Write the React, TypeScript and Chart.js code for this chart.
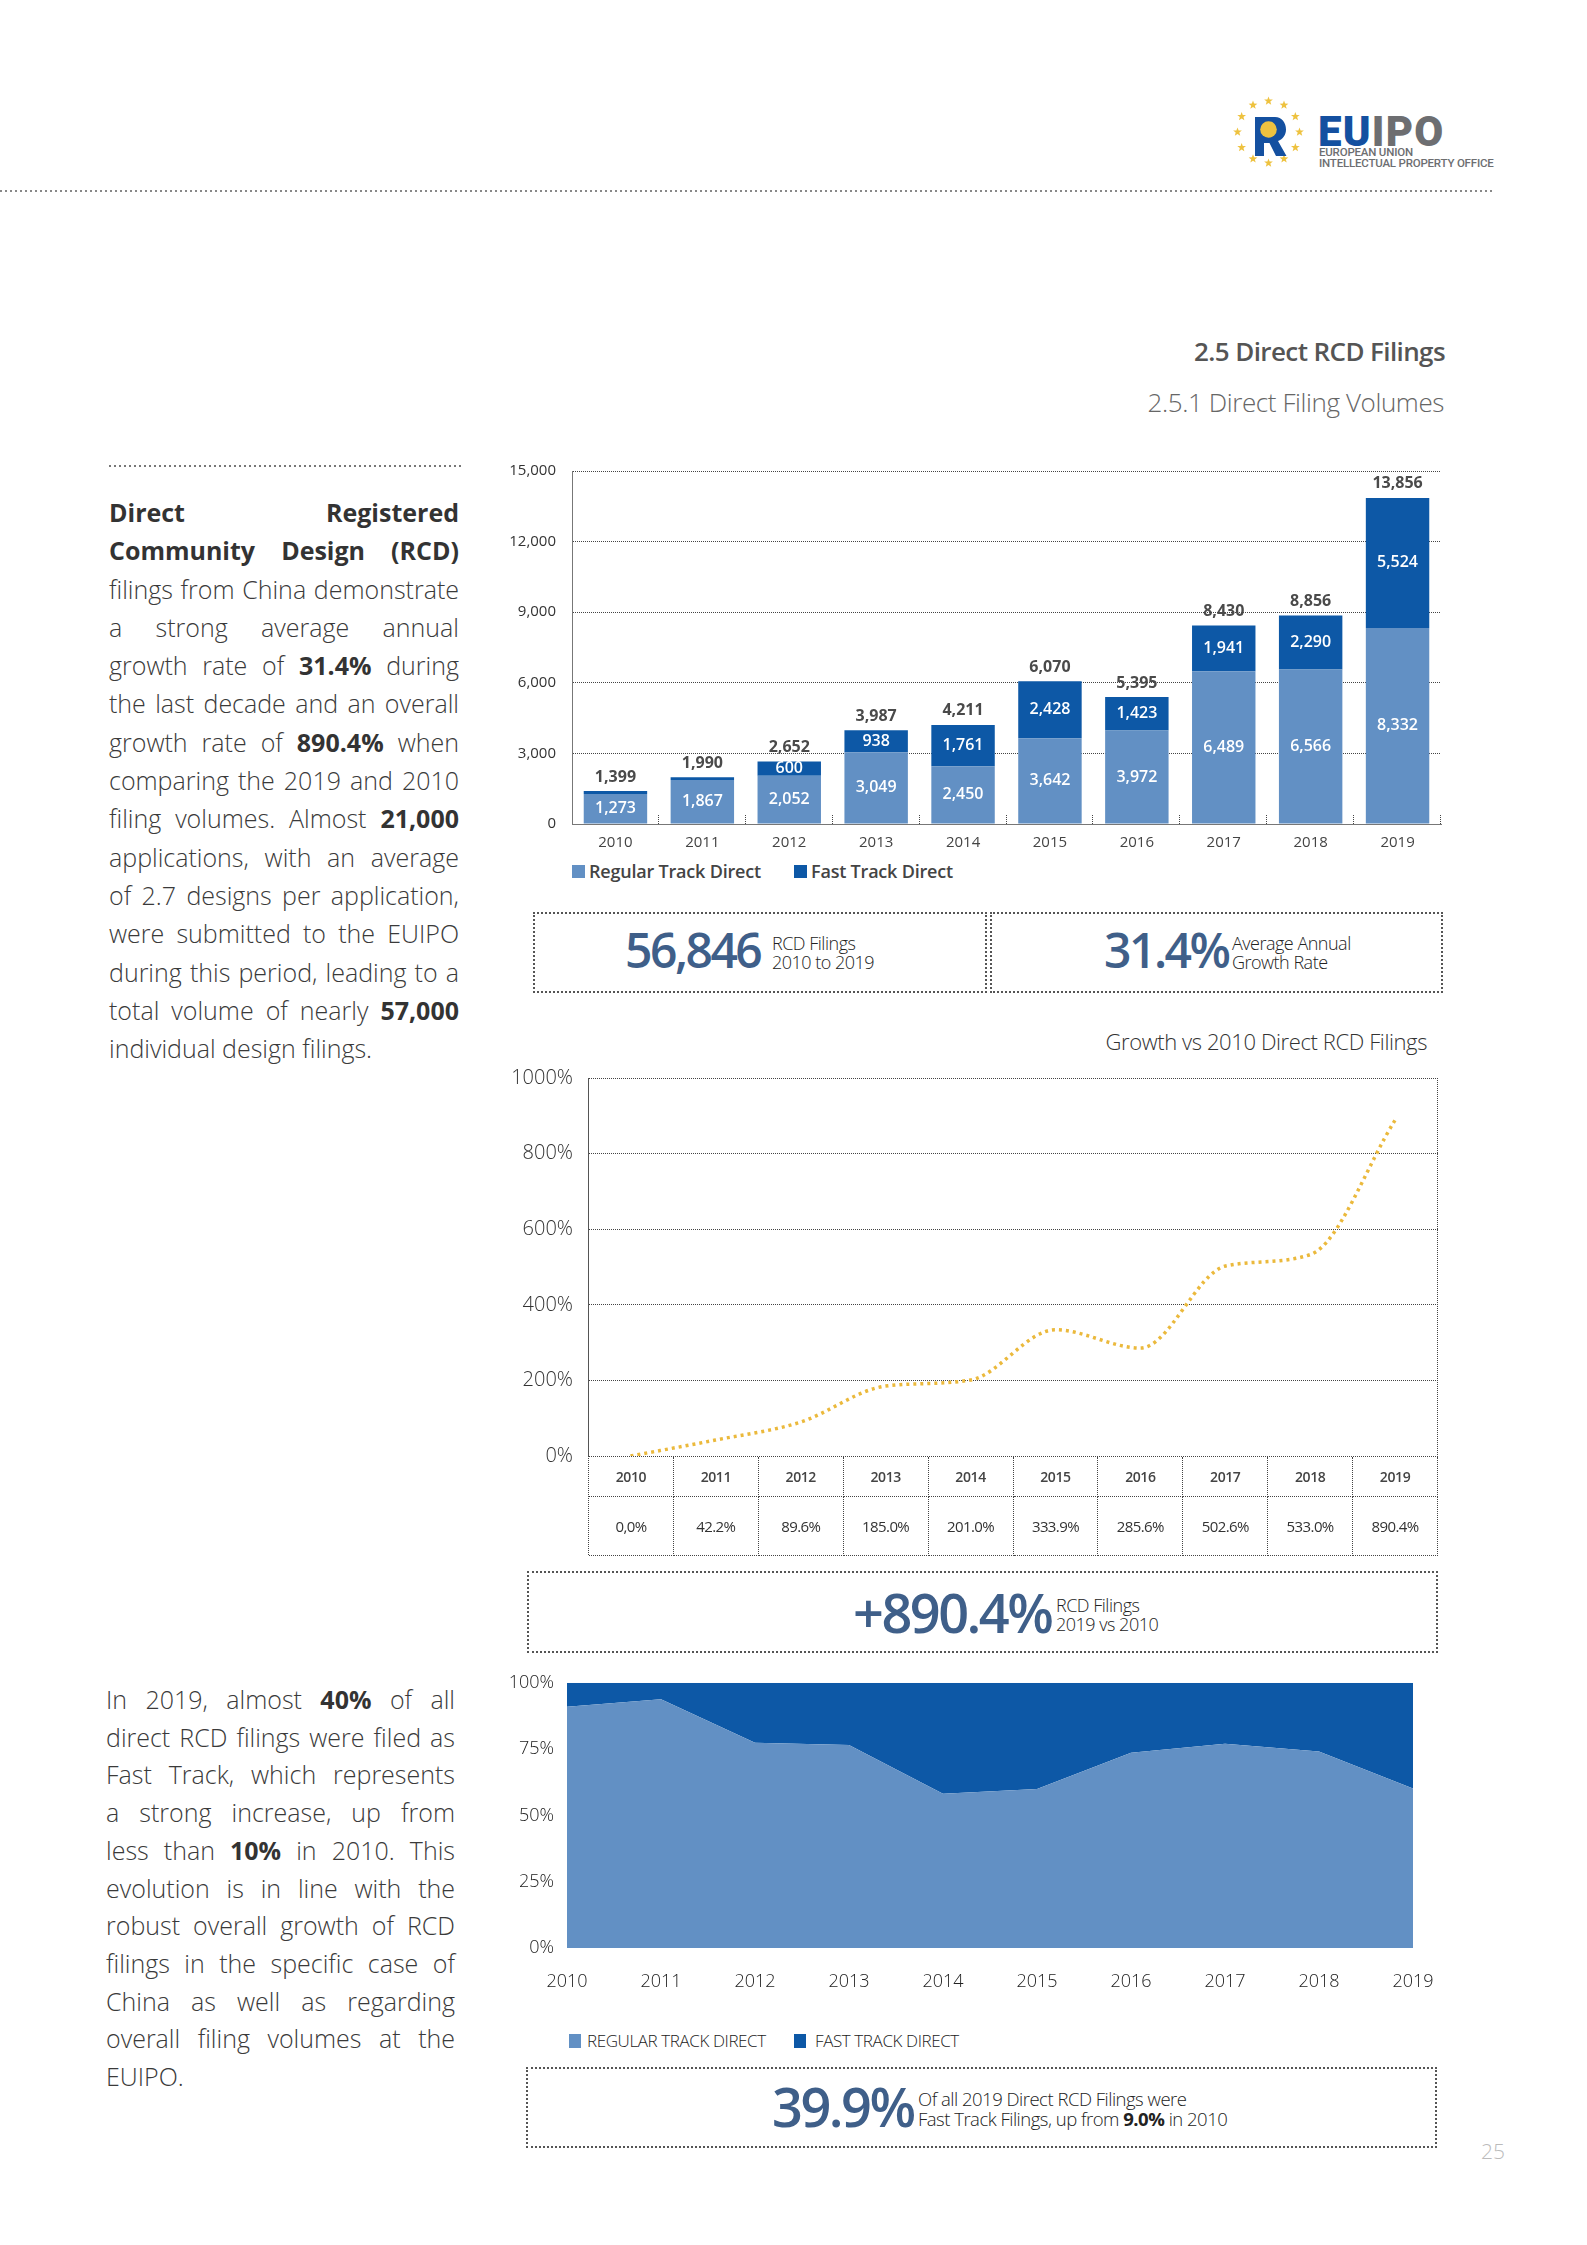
import React, { useEffect, useRef } from 'react';
import { Chart, registerables } from 'chart.js';

Chart.register(...registerables);

// ---------- DATA ----------
const years = ['2010', '2011', '2012', '2013', '2014', '2015', '2016', '2017', '2018', '2019'];
const regularTrack = [1273, 1867, 2052, 3049, 2450, 3642, 3972, 6489, 6566, 8332];
const fastTrack = [126, 123, 600, 938, 1761, 2428, 1423, 1941, 2290, 5524];
const totalFilings = [1399, 1990, 2652, 3987, 4211, 6070, 5395, 8430, 8856, 13856];
const barAxisMax = 15000;
const barAxisStep = 3000;

const growthPct = [0, 42.2, 89.6, 185.0, 201.0, 333.9, 285.6, 502.6, 533.0, 890.4];
const growthLabels = ['0,0%', '42.2%', '89.6%', '185.0%', '201.0%', '333.9%', '285.6%', '502.6%', '533.0%', '890.4%'];
const growthAxisMax = 1000;
const growthAxisStep = 200;

const regularShare = [91.0, 93.8, 77.4, 76.5, 58.2, 60.0, 73.6, 77.0, 74.1, 60.1];
const fastShare = [9.0, 6.2, 22.6, 23.5, 41.8, 40.0, 26.4, 23.0, 25.9, 39.9];
const shareAxisStep = 25;

// ---------- STYLE ----------
const FONT = '"Open Sans", sans-serif';
const REG = '#6290C4';
const FAST = '#0D58A6';
const GOLD = '#EBB93C';
const STAT = '#3F5F89';
const TEXT = '#3a3a3a';

Chart.defaults.font.family = FONT;

const fmt = (v: number) => v.toLocaleString('en-US');

const barLabelPlugin = {
  id: 'barLabels',
  afterDatasetsDraw(chart: any) {
    const { ctx } = chart;
    const m0 = chart.getDatasetMeta(0);
    const m1 = chart.getDatasetMeta(1);
    ctx.save();
    ctx.textAlign = 'center';
    ctx.textBaseline = 'middle';
    m0.data.forEach((el: any, i: number) => {
      const r = el.getProps(['x', 'y', 'base'], true);
      const f = m1.data[i].getProps(['x', 'y', 'base'], true);
      ctx.fillStyle = '#ffffff';
      ctx.font = `600 16px ${FONT}`;
      ctx.fillText(fmt(regularTrack[i]), r.x, (r.y + r.base) / 2);
      if (fastTrack[i] >= 300) ctx.fillText(fmt(fastTrack[i]), f.x, (f.y + f.base) / 2);
      ctx.fillStyle = '#4a4a4a';
      ctx.font = `700 16px ${FONT}`;
      ctx.fillText(fmt(totalFilings[i]), f.x, f.y - 14);
    });
    ctx.restore();
  },
};

const innerTicksPlugin = {
  id: 'innerTicks',
  afterDraw(chart: any) {
    const { ctx, chartArea } = chart;
    const { left, right, bottom } = chartArea;
    const n = years.length;
    const w = (right - left) / n;
    ctx.save();
    ctx.strokeStyle = '#444';
    ctx.lineWidth = 1;
    ctx.setLineDash([1, 1]);
    for (let i = 1; i <= n; i++) {
      const x = Math.round(left + i * w) - 0.5;
      ctx.beginPath();
      ctx.moveTo(x, bottom);
      ctx.lineTo(x, bottom - 9);
      ctx.stroke();
    }
    ctx.restore();
  },
};

const rightBorderPlugin = {
  id: 'rightBorder',
  afterDraw(chart: any) {
    const { ctx, chartArea } = chart;
    ctx.save();
    ctx.strokeStyle = '#444';
    ctx.lineWidth = 1;
    ctx.setLineDash([1, 1]);
    const x = Math.round(chartArea.right) - 0.5;
    ctx.beginPath();
    ctx.moveTo(x, chartArea.top);
    ctx.lineTo(x, chartArea.bottom);
    ctx.stroke();
    ctx.restore();
  },
};

function ChartCanvas({ left, top, width, height, build }: any) {
  const ref = useRef<HTMLCanvasElement>(null);
  useEffect(() => {
    const chart = new Chart(ref.current as HTMLCanvasElement, build());
    return () => chart.destroy();
  }, []);
  return (
    <canvas
      ref={ref}
      width={width}
      height={height}
      style={{ position: 'absolute', left, top, width, height }}
    />
  );
}

const buildBar = () => ({
  type: 'bar',
  data: {
    labels: years,
    datasets: [
      { label: 'Regular Track Direct', data: regularTrack, backgroundColor: REG, barPercentage: 0.73, categoryPercentage: 1 },
      { label: 'Fast Track Direct', data: fastTrack, backgroundColor: FAST, barPercentage: 0.73, categoryPercentage: 1 },
    ],
  },
  options: {
    responsive: false,
    animation: false,
    layout: { padding: { left: 0, right: 19, top: 0, bottom: 0 } },
    plugins: { legend: { display: false }, tooltip: { enabled: false } },
    scales: {
      x: {
        stacked: true,
        offset: true,
        grid: { display: false, drawTicks: false },
        border: { display: true, color: '#777', width: 1 },
        ticks: { padding: 10, maxRotation: 0, font: { size: 15 }, color: '#444' },
        afterFit: (s: any) => { s.height = 31; },
      },
      y: {
        stacked: true,
        min: 0,
        max: barAxisMax,
        ticks: {
          stepSize: barAxisStep,
          padding: 16,
          font: { size: 15 },
          color: '#333',
          callback: (v: any) => fmt(Number(v)),
        },
        grid: { color: '#444', lineWidth: 1, drawTicks: false },
        border: { display: true, color: '#777', width: 1, dash: [1, 1] },
        afterFit: (s: any) => { s.width = 72; },
      },
    },
  },
  plugins: [barLabelPlugin, innerTicksPlugin],
});

const buildLine = () => ({
  type: 'line',
  data: {
    labels: years,
    datasets: [
      {
        label: 'Growth vs 2010',
        data: growthPct,
        borderColor: GOLD,
        borderWidth: 3.5,
        borderDash: [3, 4],
        pointRadius: 0,
        cubicInterpolationMode: 'monotone',
        fill: false,
      },
    ],
  },
  options: {
    responsive: false,
    animation: false,
    layout: { padding: { left: 0, right: 22, top: 0, bottom: 0 } },
    plugins: { legend: { display: false }, tooltip: { enabled: false } },
    scales: {
      x: { display: false, offset: true },
      y: {
        min: 0,
        max: growthAxisMax,
        ticks: {
          stepSize: growthAxisStep,
          padding: 15,
          font: { size: 20, weight: 300 },
          color: '#333',
          callback: (v: any) => `${v}%`,
        },
        grid: { color: '#444', lineWidth: 1, drawTicks: false },
        border: { display: true, color: '#555', width: 1, dash: [1, 1] },
        afterFit: (s: any) => { s.width = 88; },
      },
    },
  },
  plugins: [rightBorderPlugin],
});

const buildArea = () => ({
  type: 'line',
  data: {
    labels: years,
    datasets: [
      { label: 'REGULAR TRACK DIRECT', data: regularShare, backgroundColor: REG, borderColor: REG, borderWidth: 0, pointRadius: 0, fill: 'origin', tension: 0 },
      { label: 'FAST TRACK DIRECT', data: fastShare, backgroundColor: FAST, borderColor: FAST, borderWidth: 0, pointRadius: 0, fill: '-1', tension: 0 },
    ],
  },
  options: {
    responsive: false,
    animation: false,
    layout: { padding: { left: 0, right: 47, top: 0, bottom: 0 } },
    plugins: { legend: { display: false }, tooltip: { enabled: false } },
    scales: {
      x: {
        offset: false,
        grid: { display: false },
        border: { display: false },
        ticks: { padding: 15, maxRotation: 0, font: { size: 18, weight: 300 }, color: '#222' },
        afterFit: (s: any) => { s.height = 45; },
      },
      y: {
        stacked: true,
        min: 0,
        max: 100,
        ticks: {
          stepSize: shareAxisStep,
          padding: 5,
          font: { size: 18, weight: 300 },
          color: '#222',
          callback: (v: any) => `${v}%`,
        },
        grid: { display: false },
        border: { display: false },
        afterFit: (s: any) => { s.width = 67; },
      },
    },
  },
});

// ---------- HTML helpers ----------
const abs = (left: number, top: number, extra: any = {}) => ({ position: 'absolute' as const, left, top, ...extra });

function HDots({ x, y, w, color = '#777' }: any) {
  return (
    <div
      style={abs(x, y, {
        width: w,
        height: 2,
        backgroundImage: `repeating-linear-gradient(90deg, ${color} 0 2px, transparent 2px 5px)`,
      })}
    />
  );
}

function Box({ x, y, w, h }: any) {
  return <div style={abs(x, y, { width: w, height: h, border: '2px dotted #555', boxSizing: 'border-box' })} />;
}

function BigNum({ x, cy, size, ls = -2.5, children }: any) {
  return (
    <div
      style={abs(x, cy - 0.531 * size, {
        fontFamily: FONT,
        fontWeight: 600,
        fontSize: size,
        lineHeight: 1,
        color: STAT,
        letterSpacing: ls,
        whiteSpace: 'nowrap',
      })}
    >
      {children}
    </div>
  );
}

function SmallLines({ x, cy1, lines, size = 18, lh = 19, ls = -0.5 }: any) {
  return (
    <div
      style={abs(x, cy1 - lh / 2, {
        fontFamily: FONT,
        fontWeight: 300,
        fontSize: size,
        lineHeight: `${lh}px`,
        color: '#222',
        letterSpacing: ls,
        whiteSpace: 'nowrap',
      })}
    >
      {lines.map((l: any, i: number) => (
        <div key={i}>{l}</div>
      ))}
    </div>
  );
}

function JLine({ children, last }: any) {
  return <div style={{ textAlign: 'justify', textAlignLast: last ? 'left' : 'justify' }}>{children}</div>;
}

const B = ({ children }: any) => <b style={{ fontWeight: 700, color: '#333' }}>{children}</b>;

function Stars() {
  const cx = 38.5, cy = 39, R = 31;
  const stars = [];
  for (let k = 0; k < 12; k++) {
    const a = (k * Math.PI) / 6;
    const sx = cx + R * Math.sin(a);
    const sy = cy - R * Math.cos(a);
    const pts = [];
    for (let j = 0; j < 10; j++) {
      const rr = j % 2 === 0 ? 4.6 : 1.9;
      const b = (j * Math.PI) / 5;
      pts.push(`${(sx + rr * Math.sin(b)).toFixed(2)},${(sy - rr * Math.cos(b)).toFixed(2)}`);
    }
    stars.push(<polygon key={k} points={pts.join(' ')} fill="#EEC23F" />);
  }
  return (
    <svg width={80} height={80} style={abs(1230, 93)}>
      {stars}
      <path d="M25 24 H45 C52 24 56 30 56 36.5 C56 42 53 46 48 48 L56.5 63 H46 L39.5 50 H34 V63 H25 Z" fill="#1450A0" />
      <circle cx={38.5} cy={36.5} r={8.3} fill="#EEC23F" />
    </svg>
  );
}

export default function App() {
  const bodyText = {
    fontFamily: FONT,
    fontWeight: 300,
    fontSize: 25,
    color: TEXT,
  };
  const legendText = { fontFamily: FONT, fontWeight: 600, fontSize: 18, lineHeight: '24px', color: '#444', whiteSpace: 'nowrap', letterSpacing: -0.2 };
  const legendText2 = { fontFamily: FONT, fontWeight: 300, fontSize: 17, lineHeight: '24px', color: '#222', whiteSpace: 'nowrap', letterSpacing: -0.4 };
  return (
    <div
      style={{
        position: 'absolute',
        left: 0,
        top: 0,
        width: 1587,
        height: 2245,
        background: '#fff',
        overflow: 'hidden',
      }}
    >
      {/* Header logo */}
      <Stars />
      <div
        style={abs(1318, 110.5, {
          fontFamily: 'Roboto, sans-serif',
          fontWeight: 900,
          fontSize: 42,
          lineHeight: 1,
          letterSpacing: 1.2,
          whiteSpace: 'nowrap',
        })}
      >
        <span style={{ color: '#1450A0' }}>EU</span>
        <span style={{ color: '#6D6E71' }}>IPO</span>
      </div>
      <div
        style={abs(1319, 147, {
          fontFamily: 'Roboto, sans-serif',
          fontWeight: 500,
          fontSize: 11.5,
          lineHeight: '11px',
          color: '#6D6E71',
          letterSpacing: -0.2,
          whiteSpace: 'nowrap',
        })}
      >
        <div>EUROPEAN UNION</div>
        <div>INTELLECTUAL PROPERTY OFFICE</div>
      </div>
      <HDots x={0} y={190} w={1494} color="#888" />

      {/* Titles */}
      <div
        style={{
          position: 'absolute',
          right: 1587 - 1445,
          top: 351 - 19,
          fontFamily: FONT,
          fontWeight: 600,
          fontSize: 26,
          lineHeight: '38px',
          color: '#555',
          letterSpacing: -0.6,
          whiteSpace: 'nowrap',
        }}
      >
        2.5 Direct RCD Filings
      </div>
      <div
        style={{
          position: 'absolute',
          right: 1587 - 1444,
          top: 402 - 19,
          fontFamily: FONT,
          fontWeight: 300,
          fontSize: 26,
          lineHeight: '38px',
          color: '#666',
          letterSpacing: -0.4,
          whiteSpace: 'nowrap',
        }}
      >
        2.5.1 Direct Filing Volumes
      </div>

      {/* Left paragraph 1 */}
      <HDots x={109} y={465} w={352} color="#777" />
      <div style={abs(109, 493, { width: 350, ...bodyText, lineHeight: '38.3px' })}>
        <JLine><B>Direct Registered</B></JLine>
        <JLine><B>Community Design (RCD)</B></JLine>
        <JLine>filings from China demonstrate</JLine>
        <JLine>a strong average annual</JLine>
        <JLine>growth rate of <B>31.4%</B> during</JLine>
        <JLine>the last decade and an overall</JLine>
        <JLine>growth rate of <B>890.4%</B> when</JLine>
        <JLine>comparing the 2019 and 2010</JLine>
        <JLine>filing volumes. Almost <B>21,000</B></JLine>
        <JLine>applications, with an average</JLine>
        <JLine>of 2.7 designs per application,</JLine>
        <JLine>were submitted to the EUIPO</JLine>
        <JLine>during this period, leading to a</JLine>
        <JLine>total volume of nearly <B>57,000</B></JLine>
        <JLine last>individual design filings.</JLine>
      </div>

      {/* Left paragraph 2 */}
      <div style={abs(106, 1681, { width: 349, ...bodyText, lineHeight: '37.7px' })}>
        <JLine>In 2019, almost <B>40%</B> of all</JLine>
        <JLine>direct RCD filings were filed as</JLine>
        <JLine>Fast Track, which represents</JLine>
        <JLine>a strong increase, up from</JLine>
        <JLine>less than <B>10%</B> in 2010. This</JLine>
        <JLine>evolution is in line with the</JLine>
        <JLine>robust overall growth of RCD</JLine>
        <JLine>filings in the specific case of</JLine>
        <JLine>China as well as regarding</JLine>
        <JLine>overall filing volumes at the</JLine>
        <JLine last>EUIPO.</JLine>
      </div>

      {/* Bar chart */}
      <ChartCanvas left={500} top={446} width={960} height={409} build={buildBar} />
      <div style={abs(572, 864.5, { width: 13, height: 13, background: REG })} />
      <div style={abs(589, 859, legendText)}>Regular Track Direct</div>
      <div style={abs(794, 864.5, { width: 13, height: 13, background: FAST })} />
      <div style={abs(811, 859, legendText)}>Fast Track Direct</div>

      {/* Stat boxes row */}
      <Box x={533} y={912} w={454} h={81} />
      <Box x={990} y={912} w={453} h={81} />
      <BigNum x={625} cy={951} size={48}>56,846</BigNum>
      <SmallLines x={772} cy1={943} lines={['RCD Filings', '2010 to 2019']} />
      <BigNum x={1104} cy={951} size={48}>31.4%</BigNum>
      <SmallLines x={1232} cy1={943} lines={['Average Annual', 'Growth Rate']} />

      {/* Line chart */}
      <div
        style={{
          position: 'absolute',
          right: 1587 - 1427,
          top: 1041 - 15,
          fontFamily: FONT,
          fontWeight: 300,
          fontSize: 22,
          lineHeight: '30px',
          color: '#333',
          letterSpacing: -0.4,
          whiteSpace: 'nowrap',
        }}
      >
        Growth vs 2010 Direct RCD Filings
      </div>
      <ChartCanvas left={500} top={1051} width={960} height={432} build={buildLine} />
      <div
        style={abs(588, 1456, {
          width: 850,
          height: 99,
          display: 'grid',
          gridTemplateColumns: 'repeat(10, 1fr)',
          gridTemplateRows: '40px 59px',
          borderLeft: '1px dotted #444',
          borderTop: '1px dotted #444',
          boxSizing: 'border-box',
          fontFamily: FONT,
        })}
      >
        {years.map((y) => (
          <div
            key={'y' + y}
            style={{
              borderRight: '1px dotted #444',
              borderBottom: '1px dotted #444',
              display: 'flex',
              alignItems: 'center',
              justifyContent: 'center',
              fontSize: 14,
              fontWeight: 600,
              color: '#444',
              letterSpacing: -0.4,
            }}
          >
            {y}
          </div>
        ))}
        {growthLabels.map((g, i) => (
          <div
            key={'g' + i}
            style={{
              borderRight: '1px dotted #444',
              borderBottom: '1px dotted #444',
              display: 'flex',
              alignItems: 'center',
              justifyContent: 'center',
              fontSize: 15,
              fontWeight: 400,
              color: '#333',
              letterSpacing: -0.6,
            }}
          >
            {g}
          </div>
        ))}
      </div>

      {/* +890.4% box */}
      <Box x={527} y={1571} w={911} h={82} />
      <BigNum x={853} cy={1614} size={54}>+890.4%</BigNum>
      <SmallLines x={1056} cy1={1605} lines={['RCD Filings', '2019 vs 2010']} />

      {/* Area chart */}
      <ChartCanvas left={500} top={1667} width={960} height={326} build={buildArea} />
      <div style={abs(569, 2034, { width: 12, height: 14, background: REG })} />
      <div style={abs(587, 2029, legendText2)}>REGULAR TRACK DIRECT</div>
      <div style={abs(794, 2034, { width: 12, height: 14, background: FAST })} />
      <div style={abs(815, 2029, legendText2)}>FAST TRACK DIRECT</div>

      {/* Bottom box */}
      <Box x={526} y={2067} w={911} h={81} />
      <BigNum x={772} cy={2108} size={54}>39.9%</BigNum>
      <SmallLines
        x={918}
        cy1={2099}
        lh={20}
        size={18.5}
        ls={-0.5}
        lines={['Of all 2019 Direct RCD Filings were', <span key="s">Fast Track Filings, up from <b style={{ fontWeight: 700 }}>9.0%</b> in 2010</span>]}
      />

      {/* Page number */}
      <div style={abs(1481, 2138, { fontFamily: FONT, fontWeight: 300, fontSize: 21, lineHeight: '26px', color: '#bbb' })}>25</div>
    </div>
  );
}
